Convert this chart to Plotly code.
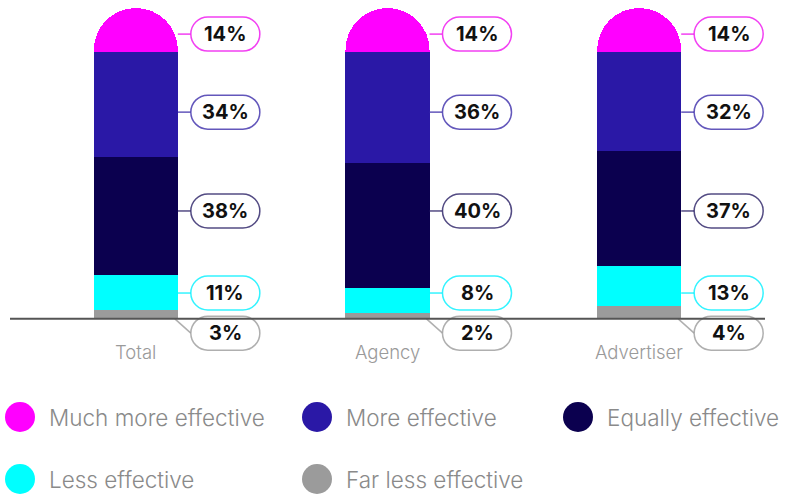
import plotly.graph_objects as go

# Survey categories and share of responses (%) per answer
categories = ["Total", "Agency", "Advertiser"]
far_less_effective = [3, 2, 4]
less_effective = [11, 8, 13]
equally_effective = [38, 40, 37]
more_effective = [34, 36, 32]
much_more_effective = [14, 14, 14]

series = [
    ("Far less effective", far_less_effective, "#9b9b9b", "rgba(155,155,155,0.8)"),
    ("Less effective", less_effective, "#00ffff", "rgba(0,240,255,0.8)"),
    ("Equally effective", equally_effective, "#0b004f", "rgba(40,30,100,0.8)"),
    ("More effective", more_effective, "#2a18a6", "rgba(60,45,170,0.8)"),
    ("Much more effective", much_more_effective, "#ff00ff", "rgba(240,30,240,0.85)"),
]

# Vertical row (in axis units) where each series' value pills sit
label_rows = {
    "Far less effective": -4.6,
    "Less effective": 8.3,
    "Equally effective": 34.7,
    "More effective": 66.5,
    "Much more effective": 91.6,
}

W, H = 785, 494
M_L, M_R, M_T, M_B = 10, 20, 8, 113
Y_MIN, Y_MAX = -20, 100
PLOT_W = W - M_L - M_R
PLOT_H = H - M_T - M_B
BAR_W = 0.334

FONT = "Inter"

fig = go.Figure()
for name, vals, color, _ in series:
    fig.add_trace(go.Bar(
        x=categories, y=vals, name=name, width=BAR_W,
        marker=dict(color=color, line=dict(width=0)),
        showlegend=False, hoverinfo="skip",
    ))


def pill_path(x0, x1, h):
    r = h / 2
    k = 0.5523 * r
    a, b = x0 + r, x1 - r
    return (f"M{a},{r} L{b},{r} C{b + k},{r} {x1},{k} {x1},0 "
            f"C{x1},{-k} {b + k},{-r} {b},{-r} L{a},{-r} "
            f"C{a - k},{-r} {x0},{-k} {x0},0 C{x0},{k} {a - k},{r} {a},{r} Z")


shapes = []
annotations = []
PILL_X0, PILL_X1, PILL_H = 55, 124, 34
half_bar_px = BAR_W * PLOT_W / len(categories) / 2

for name, vals, color, border in series:
    row = label_rows[name]
    for i, v in enumerate(vals):
        if row < 0:
            # diagonal leader from the bar foot down to the pill
            drop = row * PLOT_H / (Y_MAX - Y_MIN)
            shapes.append(dict(
                type="line", xref="x", yref="y", xsizemode="pixel", ysizemode="pixel",
                xanchor=i, yanchor=0, x0=half_bar_px - 3, y0=0, x1=PILL_X0, y1=drop,
                line=dict(color=border, width=1.5), layer="above"))
        else:
            shapes.append(dict(
                type="line", xref="x", yref="y", xsizemode="pixel", ysizemode="pixel",
                xanchor=i, yanchor=row, x0=half_bar_px, y0=0, x1=PILL_X0, y1=0,
                line=dict(color=border, width=1.5), layer="above"))
        shapes.append(dict(
            type="path", xref="x", yref="y", xsizemode="pixel", ysizemode="pixel",
            xanchor=i, yanchor=row, path=pill_path(PILL_X0, PILL_X1, PILL_H),
            fillcolor="white", line=dict(color=border, width=1.5), layer="above"))
        annotations.append(dict(
            x=i, y=row, xref="x", yref="y", text=f"{v}%", showarrow=False,
            xshift=(PILL_X0 + PILL_X1) / 2, yshift=0,
            font=dict(family=FONT, size=20, color="#111111", weight=700)))

# Baseline across the chart
shapes.append(dict(type="line", xref="paper", yref="y", x0=0, x1=1, y0=0, y1=0,
                   line=dict(color="#555555", width=2), layer="above"))

# Category names under each bar
for i, c in enumerate(categories):
    annotations.append(dict(
        x=i, y=0, xref="x", yref="y", text=c, showarrow=False, yshift=-33,
        font=dict(family=FONT, size=18.5, color="#9a9a9a", weight=300)))


def px_to_paper(px, py):
    return (px - M_L) / PLOT_W, (M_T + PLOT_H - py) / PLOT_H


# Legend laid out in a grid of circles and labels
legend_order = ["Much more effective", "More effective", "Equally effective",
                "Less effective", "Far less effective"]
legend_cols = [20, 317, 578]
legend_rows = [417, 479]
color_of = {s[0]: s[2] for s in series}
for k, name in enumerate(legend_order):
    cx = legend_cols[k % 3]
    cy = legend_rows[k // 3]
    px, py = px_to_paper(cx, cy)
    shapes.append(dict(
        type="circle", xref="paper", yref="paper", xsizemode="pixel", ysizemode="pixel",
        xanchor=px, yanchor=py, x0=-15, x1=15, y0=-15, y1=15,
        fillcolor=color_of[name], line=dict(width=0)))
    tx, ty = px_to_paper(cx + 27, cy)
    annotations.append(dict(
        x=tx, y=ty, xref="paper", yref="paper", text=name, showarrow=False,
        xanchor="left", yanchor="middle",
        font=dict(family=FONT, size=22.5, color="#8a8a8a", weight=300)))

fig.update_layout(
    barmode="stack",
    barcornerradius="50%",
    width=W, height=H, autosize=False,
    margin=dict(l=M_L, r=M_R, t=M_T, b=M_B),
    paper_bgcolor="white", plot_bgcolor="white",
    xaxis=dict(range=[-0.5, 2.5], showgrid=False, zeroline=False, showline=False,
               showticklabels=False, ticks=""),
    yaxis=dict(range=[Y_MIN, Y_MAX], showgrid=False, zeroline=False, showline=False,
               showticklabels=False, ticks=""),
    shapes=shapes, annotations=annotations,
)

fig.write_html("out.html")
